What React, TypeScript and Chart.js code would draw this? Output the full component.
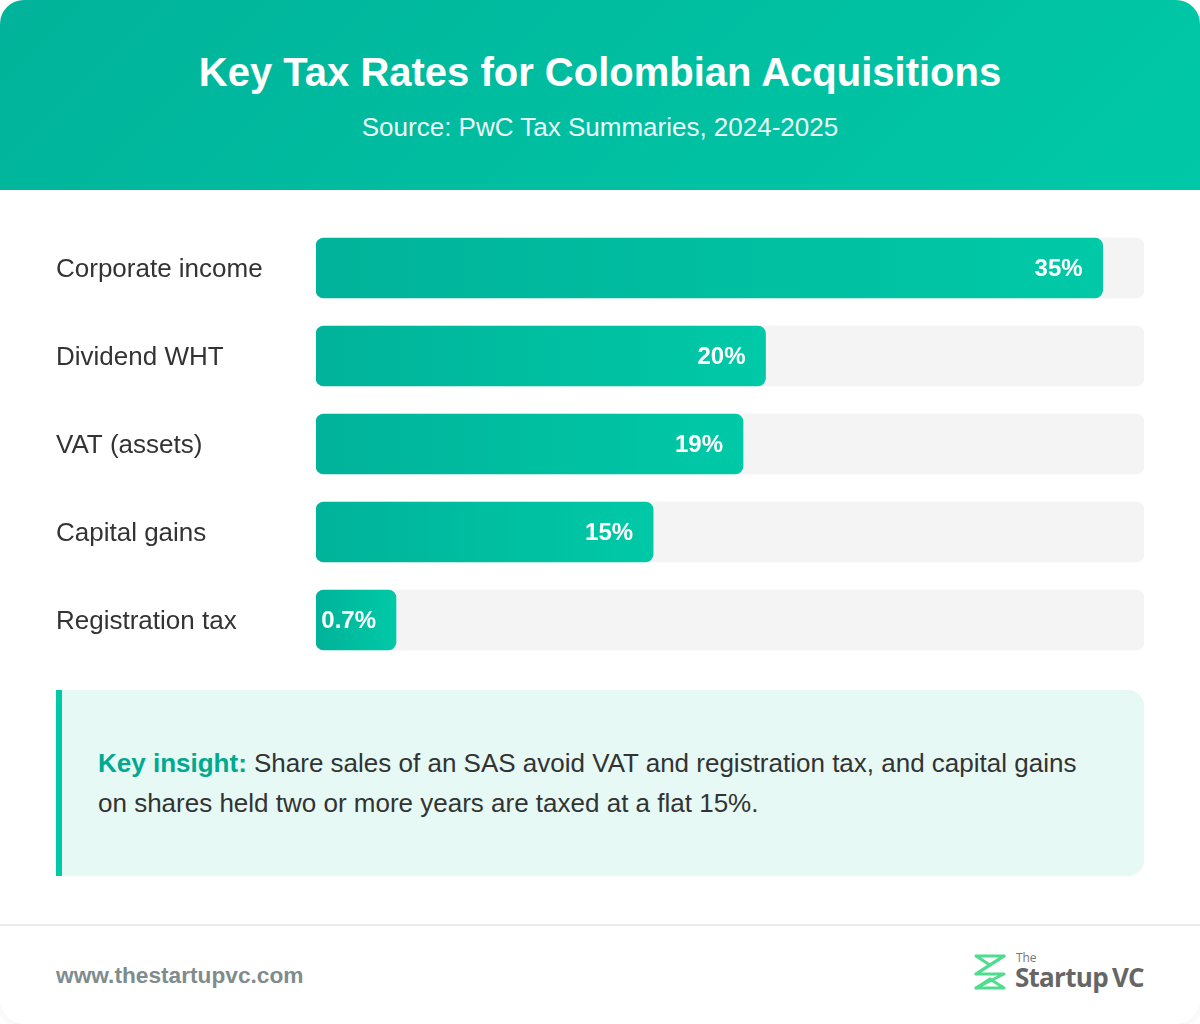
import React, { useEffect, useRef } from "react";
import { Chart, registerables } from "chart.js";

Chart.register(...registerables);

const categories = ["Corporate income", "Dividend WHT", "VAT (assets)", "Capital gains", "Registration tax"];
const rates = [35, 20, 19, 15, 0.7];
const axisMax = 36.84;
const trackValues = categories.map(() => axisMax);

const FONT = "'Liberation Sans', Arial, Helvetica, sans-serif";

const valueLabelPlugin = {
  id: "valueLabels",
  afterDatasetsDraw(chart: any) {
    const meta = chart.getDatasetMeta(0);
    const ctx = chart.ctx;
    ctx.save();
    ctx.font = `bold 24px ${FONT}`;
    ctx.fillStyle = "#ffffff";
    ctx.textAlign = "right";
    ctx.textBaseline = "middle";
    meta.data.forEach((el: any, i: number) => {
      ctx.fillText(`${rates[i]}%`, el.x - 20, el.y + 1);
    });
    ctx.restore();
  },
};

function barFill(c: any) {
  const chart = c.chart;
  const xs = chart && chart.scales && chart.scales.x;
  const fallback = "#00bd9f";
  if (!xs || c.dataIndex === undefined || c.type !== "data") return fallback;
  const x0 = xs.getPixelForValue(0);
  const xv = xs.getPixelForValue(rates[c.dataIndex]);
  if (!Number.isFinite(x0) || !Number.isFinite(xv)) return fallback;
  const x1 = Math.max(xv, x0 + 80);
  if (!(x1 > x0)) return fallback;
  try {
    const g = chart.ctx.createLinearGradient(x0, 0, x1, 0);
    g.addColorStop(0, "#00b39a");
    g.addColorStop(1, "#00c9a7");
    return g;
  } catch (e) {
    return fallback;
  }
}

function BarChart() {
  const ref = useRef<HTMLCanvasElement>(null);
  useEffect(() => {
    if (!ref.current) return;
    const chart = new Chart(ref.current, {
      type: "bar",
      data: {
        labels: categories,
        datasets: [
          {
            data: rates,
            barThickness: 60,
            minBarLength: 80,
            borderRadius: 8,
            borderSkipped: false,
            grouped: false,
            backgroundColor: barFill,
          },
          {
            data: trackValues,
            barThickness: 60,
            borderRadius: 8,
            borderSkipped: false,
            grouped: false,
            backgroundColor: "#f4f4f4",
          },
        ],
      },
      options: {
        indexAxis: "y",
        animation: false,
        responsive: false,
        events: [],
        layout: { padding: 0 },
        plugins: { legend: { display: false }, tooltip: { enabled: false } },
        scales: {
          x: { display: false, min: 0, max: axisMax },
          y: {
            grid: { display: false },
            border: { display: false },
            afterFit: (s: any) => {
              s.width = 260;
              s.paddingTop = 0;
              s.paddingBottom = 0;
            },
            ticks: {
              crossAlign: "far",
              padding: 0,
              labelOffset: 2,
              color: "#333333",
              font: { family: FONT, size: 26 },
            },
          },
        },
      },
      plugins: [valueLabelPlugin],
    } as any);
    chart.update();
    return () => chart.destroy();
  }, []);
  return (
    <canvas
      ref={ref}
      width={1088}
      height={440}
      style={{ position: "absolute", left: 56, top: 224, width: 1088, height: 440 }}
    />
  );
}

function Logo() {
  return (
    <div style={{ position: "absolute", right: 56, top: 953, height: 37, display: "flex", alignItems: "center" }}>
      <svg width="34" height="38" viewBox="0 0 34 38" style={{ marginRight: 8 }}>
        <g fill="none" stroke="#4fdc8f" strokeWidth="3" strokeLinejoin="round" strokeLinecap="round">
          <path d="M3 3 H31 L17 12 L3 3" />
          <path d="M31 3 L3 21 H31 L3 35 H31 L17 26" />
          <path d="M3 21 L17 12" />
          <path d="M3 35 L17 26" />
        </g>
      </svg>
      <div style={{ position: "relative", fontFamily: "'Open Sans', sans-serif", color: "#666", lineHeight: 1 }}>
        <div style={{ fontSize: 12, position: "absolute", top: -1, left: 1, color: "#777" }}>The</div>
        <div style={{ fontSize: 26, fontWeight: 700, marginTop: 11, letterSpacing: -0.7 }}>
          Startup<span style={{ marginLeft: 4 }}>VC</span>
        </div>
      </div>
    </div>
  );
}

export default function App() {
  return (
    <div
      style={{
        position: "absolute",
        left: 0,
        top: 0,
        width: 1200,
        height: 1024,
        background: "#ffffff",
        borderRadius: 24,
        overflow: "hidden",
        boxShadow: "0 2px 12px rgba(0,0,0,0.06)",
        fontFamily: FONT,
      }}
    >
      <div
        style={{
          position: "absolute",
          left: 0,
          top: 0,
          width: 1200,
          height: 190,
          background: "linear-gradient(135deg, #00b39a 0%, #00c9a7 100%)",
          color: "#fff",
          textAlign: "center",
        }}
      >
        <div style={{ position: "absolute", left: 0, right: 0, top: 48, fontSize: 40, fontWeight: 700, lineHeight: "48px" }}>
          Key Tax Rates for Colombian Acquisitions
        </div>
        <div style={{ position: "absolute", left: 0, right: 0, top: 111, fontSize: 26, lineHeight: "32px", opacity: 0.92 }}>
          Source: PwC Tax Summaries, 2024-2025
        </div>
      </div>

      <BarChart />

      <div
        style={{
          position: "absolute",
          left: 56,
          top: 690,
          width: 1088,
          height: 186,
          boxSizing: "border-box",
          background: "#e6f9f4",
          borderLeft: "6px solid #00c9a7",
          borderRadius: "0 16px 16px 0",
          paddingLeft: 36,
          display: "flex",
          alignItems: "center",
          fontSize: 26,
          lineHeight: "40px",
          color: "#333",
        }}
      >
        <div>
          <span style={{ color: "#00a98f", fontWeight: 700 }}>Key insight:</span> Share sales of an SAS avoid VAT and
          registration tax, and capital gains
          <br />
          on shares held two or more years are taxed at a flat 15%.
        </div>
      </div>

      <div style={{ position: "absolute", left: 0, top: 924, width: 1200, height: 2, background: "#ebebeb" }} />
      <div
        style={{
          position: "absolute",
          left: 56,
          top: 962,
          fontSize: 22.7,
          fontWeight: 700,
          color: "#7f8c8d",
          lineHeight: "26px",
        }}
      >
        www.thestartupvc.com
      </div>
      <Logo />
    </div>
  );
}
